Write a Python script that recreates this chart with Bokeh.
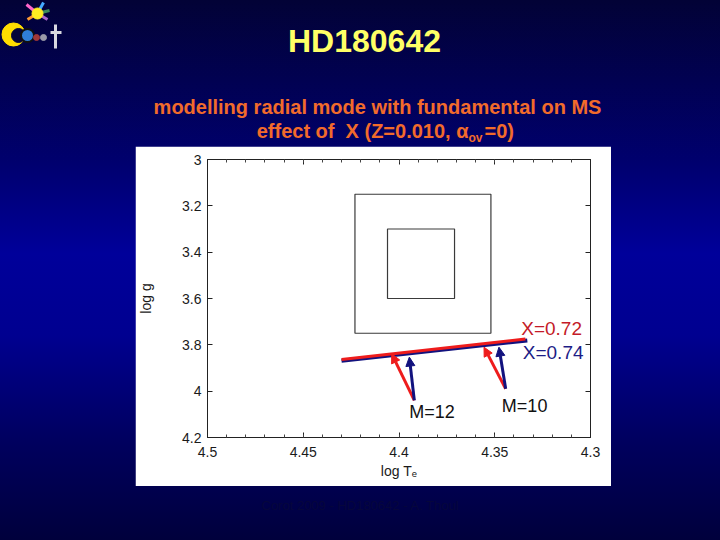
import numpy as np
from bokeh.plotting import figure
from bokeh.layouts import column, row
from bokeh.models import (Range1d, LinearAxis, SingleIntervalTicker, CustomJSTickFormatter,
                          Label, Arrow, NormalHead, ColumnDataSource, Spacer)
from bokeh.core.properties import value
from bokeh.embed import file_html
from bokeh.resources import INLINE

# ---------------- data ----------------
x_ticks = [4.5, 4.45, 4.4, 4.35, 4.3]
y_ticks = [3.0, 3.2, 3.4, 3.6, 3.8, 4.0, 4.2]

box_logT_left = [4.423, 4.406]      # outer, inner error box
box_logT_right = [4.352, 4.371]
box_logg_top = [3.15, 3.30]
box_logg_bottom = [3.75, 3.60]

track_X072_logT = [4.430, 4.334]
track_X072_logg = [3.863, 3.775]
track_X074_logT = [4.430, 4.333]
track_X074_logg = [3.869, 3.781]

mass_labels = ["M=12", "M=10"]
mass_logT = [4.392, 4.3443]
mass_logg = [4.040, 3.990]
head_X072_logT = [4.4038, 4.3556]
head_X072_logg = [3.839, 3.810]
head_X074_logT = [4.3946, 4.3478]
head_X074_logg = [3.853, 3.810]

title = "HD180642"
subtitle1 = "modelling radial mode with fundamental on MS"
subtitle2a = "effect of \u00a0X (Z=0.010, α"
subtitle2b = "ov"
subtitle2c = "=0)"
footer = "Corot 2009 - HD180642 - A. Thoul"

# ---------------- styling ----------------
RED = "#ee1c1c"
BLUE = "#12127e"
FONT = "Liberation Sans"
GRADIENT = ("linear-gradient(to bottom, #020236 0%, #00006e 30%, #00009a 47%, "
            "#000090 62%, #00005e 82%, #00003c 100%)")

W, H = 720, 540
PANEL_X0, PANEL_X1 = 135, 611
PANEL_Y0, PANEL_Y1 = 146, 486
TOP_H = PANEL_Y0
MID_H = PANEL_Y1 - PANEL_Y0
BOT_H = H - PANEL_Y1
PANEL_W = PANEL_X1 - PANEL_X0


def deco_fig(width, height, x0, x1, y0, y1):
    f = figure(width=width, height=height, output_backend="svg", toolbar_location=None,
               x_range=Range1d(x0, x1), y_range=Range1d(y1, y0),
               min_border=0, x_axis_location=None, y_axis_location=None)
    f.border_fill_color = None
    f.background_fill_color = None
    f.outline_line_color = None
    f.grid.visible = False
    return f


# ---------------- header (title, subtitle, logo) ----------------
top = deco_fig(W, TOP_H, 0, W, 0, TOP_H)


def stext(f, X, Y, txt, size, color, bold=True, align="center"):
    f.text(x=[X], y=[Y], text=[txt], text_font=value(FONT), text_font_size=size,
           text_color=color, text_font_style="bold" if bold else "normal",
           text_align=align, text_baseline="middle")


stext(top, 364, 40, title, "32px", "#ffff66")
stext(top, 377, 106, subtitle1, "20px", "#f26b2b")
stext(top, 468, 130, subtitle2a, "20px", "#f26b2b", align="right")
stext(top, 468, 137, subtitle2b, "12px", "#f26b2b", align="left")
stext(top, 484, 130, subtitle2c, "20px", "#f26b2b", align="left")

# simple CoRoT-like logo
ray_x1 = [26, 43, 49, 47, 27]
ray_y1 = [4, 2, 10, 19, 19]
top.segment(x0=[37] * 5, y0=[13] * 5, x1=ray_x1, y1=ray_y1, line_width=3,
            line_color=["#ff66cc", "#44aaff", "#3c8c5a", "#aa66cc", "#ff9933"])
top.circle([37], [13], radius=5.5, color="#ffee22")
top.circle([13], [34], radius=11.5, color="#ffdd00")
top.circle([18], [35], radius=7, color="#05053a")
top.circle([27], [35], radius=6.5, color="#2f7fd8", line_color="#111111", line_width=2)
top.circle([36, 43], [37, 37], radius=3, color=["#a03838", "#9a9aa8"])
top.segment(x0=[55, 50], y0=[24, 32], x1=[55, 61], y1=[48, 32], line_width=3,
            line_color="#d8d8e0")

# ---------------- chart ----------------
FL, FR, FT, FB = 206, 590, 159, 437   # frame edges in slide pixels
p = figure(width=PANEL_W, height=MID_H, output_backend="svg", toolbar_location=None,
           x_range=Range1d(4.5, 4.3), y_range=Range1d(4.2, 3.0),
           x_axis_location=None, y_axis_location=None,
           min_border_left=FL - PANEL_X0, min_border_right=PANEL_X1 - FR,
           min_border_top=FT - PANEL_Y0, min_border_bottom=PANEL_Y1 - FB)
p.border_fill_color = "white"
p.background_fill_color = "white"
p.outline_line_color = "#222222"
p.grid.visible = False

fmt = CustomJSTickFormatter(code="return parseFloat(tick.toFixed(3)).toString();")
blank = CustomJSTickFormatter(code="return '';")


def make_axis(kind, labels):
    if kind == "x":
        ax = LinearAxis(ticker=SingleIntervalTicker(interval=0.05, num_minor_ticks=5))
        ax.minor_tick_in = 3
        ax.minor_tick_line_color = "#444444"
    else:
        ax = LinearAxis(ticker=SingleIntervalTicker(interval=0.2, num_minor_ticks=2))
        ax.minor_tick_line_color = None
    ax.major_tick_in = 5
    ax.major_tick_out = 0
    ax.minor_tick_out = 0
    ax.axis_line_color = "#222222"
    ax.major_tick_line_color = "#222222"
    ax.major_label_text_font = FONT
    ax.major_label_text_color = "#1a1a1a"
    ax.axis_label_text_font = FONT
    ax.axis_label_text_font_size = "14px"
    ax.axis_label_text_font_style = "normal"
    ax.axis_label_text_color = "#1a1a1a"
    if labels:
        ax.formatter = fmt
        ax.major_label_text_font_size = "14px"
    else:
        ax.formatter = blank
        ax.major_label_text_font_size = "0px"
        ax.major_label_standoff = 0
    return ax


xb = make_axis("x", True)
xb.axis_label = "log Tₑ"
xb.major_label_standoff = 9
xb.axis_label_standoff = 3
p.add_layout(xb, "below")
p.add_layout(make_axis("x", False), "above")
yl = make_axis("y", True)
yl.axis_label = "log g"
yl.major_label_standoff = 6
yl.axis_label_standoff = 25
p.add_layout(yl, "left")
p.add_layout(make_axis("y", False), "right")

# error boxes
p.quad(left=box_logT_left, right=box_logT_right, top=box_logg_top, bottom=box_logg_bottom,
       fill_color=None, line_color="#3a3a3a", line_width=1.2)

# tracks
p.line(track_X074_logT, track_X074_logg, line_color=BLUE, line_width=4)
p.line(track_X072_logT, track_X072_logg, line_color=RED, line_width=3)

# arrows
src_red = ColumnDataSource(dict(x0=mass_logT, y0=mass_logg, x1=head_X072_logT, y1=head_X072_logg))
src_blue = ColumnDataSource(dict(x0=mass_logT, y0=mass_logg, x1=head_X074_logT, y1=head_X074_logg))
p.add_layout(Arrow(source=src_red, x_start="x0", y_start="y0", x_end="x1", y_end="y1",
                   line_color=RED, line_width=3,
                   end=NormalHead(size=9, fill_color=RED, line_color=RED, line_width=1)))
p.add_layout(Arrow(source=src_blue, x_start="x0", y_start="y0", x_end="x1", y_end="y1",
                   line_color=BLUE, line_width=3,
                   end=NormalHead(size=9, fill_color=BLUE, line_color=BLUE, line_width=1)))

# in-plot labels
mass_label_pos = [(4.3828, 4.092), (4.3344, 4.062)]
for txt, (lx, ly) in zip(mass_labels, mass_label_pos):
    p.add_layout(Label(x=lx, y=ly, text=txt, text_font=FONT, text_font_size="18px",
                       text_color="#111111", text_align="center", text_baseline="middle"))
p.add_layout(Label(x=4.3203, y=3.7295, text="X=0.72", text_font=FONT, text_font_size="19px",
                   text_color="#c41a28", text_align="center", text_baseline="middle"))
p.add_layout(Label(x=4.3195, y=3.835, text="X=0.74", text_font=FONT, text_font_size="19px",
                   text_color="#1c1c86", text_align="center", text_baseline="middle"))

# ---------------- footer ----------------
bot = deco_fig(W, BOT_H, 0, W, PANEL_Y1, H)
stext(bot, 360, 505, footer, "13px", "#06063c", bold=False)

left_sp = Spacer(width=PANEL_X0, height=MID_H)
right_sp = Spacer(width=W - PANEL_X1, height=MID_H)

layout = column(top, row(left_sp, p, right_sp, spacing=0), bot, spacing=0,
                styles={"background": GRADIENT})

open("out.html", "w").write(file_html(layout, INLINE))
